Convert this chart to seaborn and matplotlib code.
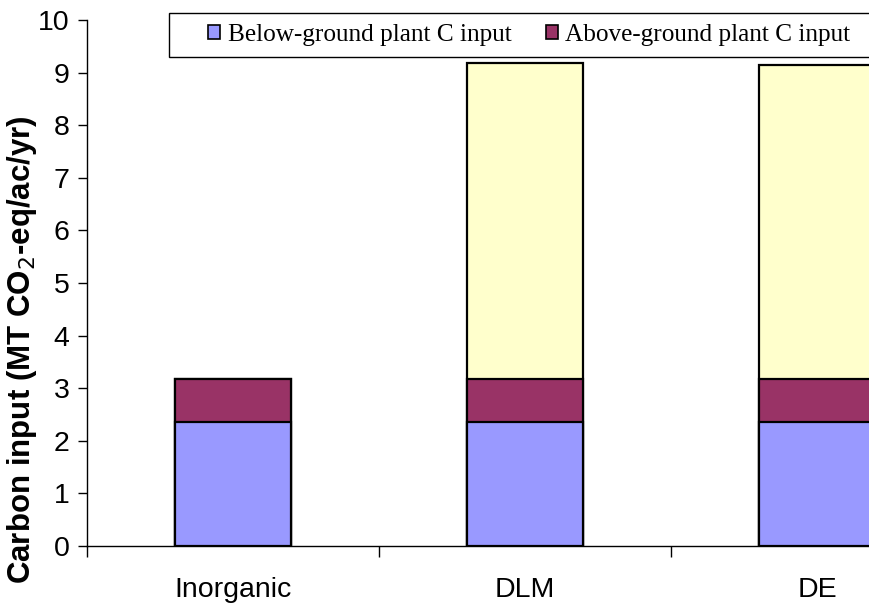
import matplotlib
matplotlib.use("Agg")
import matplotlib.pyplot as plt
import seaborn as sns
import pandas as pd
import numpy as np
from matplotlib.patches import Patch, Rectangle

categories = ["Inorganic", "DLM", "DE"]
below_ground = [2.36, 2.36, 2.36]
above_ground = [0.82, 0.82, 0.82]
manure = [0.0, 6.0, 5.96]
series_names = ["Below-ground plant C input", "Above-ground plant C input"]

sns.set_style("white")
plt.rcParams['font.family'] = ['Liberation Sans', 'DejaVu Sans']
plt.rcParams['text.color'] = 'black'
plt.rcParams['axes.labelcolor'] = 'black'
plt.rcParams['xtick.color'] = 'black'
plt.rcParams['ytick.color'] = 'black'

fig = plt.figure(figsize=(8.69, 6.06), dpi=100)
W, H = 869, 606
ax = fig.add_axes([87/W, 60/H, (W-87)/W, (546-20)/H])

b = np.array(below_ground)
a = b + np.array(above_ground)
t = a + np.array(manure)

df = pd.DataFrame({"cat": categories, "below": b, "above": a, "total": t})
kw = dict(edgecolor="black", linewidth=1.6, width=0.4, saturation=1, ax=ax)
sns.barplot(data=df, x="cat", y="total", color="#FFFFCC", **kw)
sns.barplot(data=df, x="cat", y="above", color="#993366", **kw)
sns.barplot(data=df, x="cat", y="below", color="#9999FF", **kw)

ax.set_xlim(-0.5, -0.5 + (W - 87) / 292)
ax.set_ylim(0, 10)
ax.set_yticks(range(0, 11))
ax.tick_params(axis="y", labelsize=20.5, length=6.5, width=1, direction="out", left=True, pad=6)
ax.set_xticks([-0.5, 0.5, 1.5], minor=True)
ax.tick_params(axis="x", which="major", length=0, labelsize=20.5, pad=22)
ax.tick_params(axis="x", which="minor", length=8, width=1, direction="out", bottom=True)
ax.set_xlabel("")
ax.set_ylabel("Carbon input (MT CO$_2$-eq/ac/yr)", fontsize=22.5, fontweight="bold")
ax.yaxis.set_label_coords((39 - 87) / 782, (546 - 350) / 526)

for s in ["top", "right"]:
    ax.spines[s].set_visible(False)
for s in ["left", "bottom"]:
    ax.spines[s].set_color("black")
    ax.spines[s].set_linewidth(1.0)

# legend frame (extends past the right edge like the reference)
fig.patches.append(Rectangle((169/W, 1 - 57/H), (900 - 169)/W, 44/H,
                             transform=fig.transFigure, facecolor="white",
                             edgecolor="black", linewidth=1.0, zorder=5))
handles = [Patch(facecolor="#9999FF", edgecolor="black", linewidth=1.2),
           Patch(facecolor="#993366", edgecolor="black", linewidth=1.2)]
leg = fig.legend(handles, series_names, loc="center left",
                 bbox_to_anchor=(208/W, 1 - 35/H), ncol=2,
                 prop={"family": "Liberation Serif", "size": 18.2},
                 frameon=False,
                 handlelength=0.48, handleheight=0.48, handletextpad=0.3,
                 columnspacing=1.35, borderpad=0, borderaxespad=0)
leg.set_zorder(6)

fig.savefig("out.png", dpi=100)
